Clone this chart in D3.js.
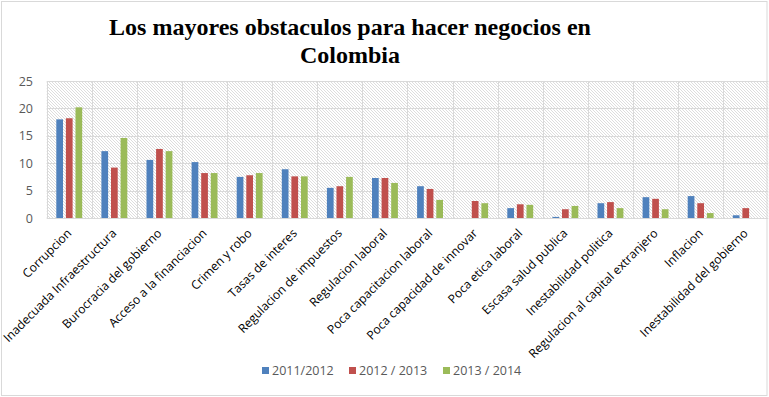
<!DOCTYPE html>
<html><head><meta charset="utf-8">
<script src="https://cdn.jsdelivr.net/npm/d3@7"></script>
<style>body{margin:0;background:#fff}svg{display:block}</style>
</head><body>
<svg id="chart" width="769" height="397"></svg>
<script>
const categories = ["Corrupcion","Inadecuada Infraestructura","Burocracia del gobierno","Acceso a la financiacion","Crimen y robo","Tasas de interes","Regulacion de impuestos","Regulacion laboral","Poca capacitacion laboral","Poca capacidad de innovar","Poca etica laboral","Escasa salud publica","Inestabilidad  politica","Regulacion al capital extranjero","Inflacion","Inestabilidad  del gobierno"];
const seriesNames = ["2011/2012","2012 / 2013","2013 / 2014"];
const values2011 = [18.0,12.2,10.6,10.2,7.5,8.9,5.5,7.3,5.8,null,1.8,0.2,2.7,3.8,4.0,0.5];
const values2012 = [18.2,9.2,12.6,8.2,7.8,7.6,5.8,7.3,5.3,3.1,2.5,1.6,2.9,3.5,2.7,1.8];
const values2013 = [20.2,14.6,12.2,8.2,8.2,7.6,7.5,6.4,3.3,2.7,2.4,2.2,1.8,1.6,0.9,null];
const yTicks = [0,5,10,15,20,25];
const colors = ["#4F81BD","#C0504D","#9BBB59"];
const titleLines = ["Los mayores obstaculos para hacer negocios en","Colombia"];

const allSeries = [values2011, values2012, values2013];
const svg = d3.select("#chart");
const W = 769, H = 397;
const plot = {left: 46.7, right: 768.3, top: 81, bottom: 218};

svg.append("rect").attr("width", W).attr("height", H).attr("fill", "#fff");

const defs = svg.append("defs");
const pat = defs.append("pattern").attr("id", "hatch").attr("patternUnits", "userSpaceOnUse")
  .attr("width", 3).attr("height", 3);
pat.append("rect").attr("width", 3).attr("height", 3).attr("fill", "#fff");
pat.append("path").attr("d", "M0,0L3,3M-1,2L1,4M2,-1L4,1").attr("stroke", "#d2d2d2").attr("stroke-width", 0.75);

const x0 = d3.scaleBand().domain(categories).range([plot.left, plot.right]).padding(0);
const groupW = 25.9;
const x1 = d3.scaleBand().domain(d3.range(3)).range([0, groupW]).paddingInner(0.3).paddingOuter(0);
const y = d3.scaleLinear().domain([0, 25]).range([plot.bottom, plot.top]);

svg.append("rect").attr("x", plot.left).attr("y", plot.top)
  .attr("width", plot.right - plot.left).attr("height", plot.bottom - plot.top)
  .attr("fill", "url(#hatch)");

svg.append("g").selectAll("line").data(yTicks).join("line")
  .attr("x1", plot.left).attr("x2", plot.right)
  .attr("y1", d => Math.round(y(d)) + 0.5).attr("y2", d => Math.round(y(d)) + 0.5)
  .attr("stroke", "#d9d9d9").attr("stroke-width", 1);
svg.append("g").selectAll("line").data(categories).join("line")
  .attr("x1", d => Math.round(x0(d)) + 0.5).attr("x2", d => Math.round(x0(d)) + 0.5)
  .attr("y1", plot.top).attr("y2", plot.bottom)
  .attr("stroke", "#d9d9d9").attr("stroke-width", 1);

const groups = svg.append("g").selectAll("g").data(categories).join("g")
  .attr("transform", d => `translate(${x0(d) + (x0.bandwidth() - groupW) / 2},0)`);
groups.selectAll("rect").data((c, i) => allSeries.map((s, k) => ({k, v: s[i]})).filter(d => d.v != null))
  .join("rect")
  .attr("x", d => x1(d.k)).attr("width", x1.bandwidth())
  .attr("y", d => y(d.v)).attr("height", d => y(0) - y(d.v))
  .attr("fill", d => colors[d.k]);

const yAxis = d3.axisLeft(y).tickValues(yTicks).tickSize(0).tickPadding(0);
const ya = svg.append("g").attr("transform", `translate(33,0)`).call(yAxis);
ya.select(".domain").remove();
ya.selectAll("text").attr("font-family", "'Open Sans', sans-serif").attr("font-size", "12.5px").attr("fill", "#595959");

const xa = svg.append("g");
xa.selectAll("text").data(categories).join("text")
  .attr("transform", d => `translate(${x0(d) + x0.bandwidth() / 2 + 3},${plot.bottom + 16}) rotate(-45)`)
  .attr("text-anchor", "end")
  .attr("font-family", "'Open Sans', sans-serif").attr("font-size", "12.1px").attr("fill", "#000")
  .text(d => d);

const t = svg.append("g");
titleLines.forEach((line, i) => {
  t.append("text").attr("x", 350).attr("y", 35 + i * 28).attr("text-anchor", "middle")
    .attr("font-family", "'Liberation Serif', 'DejaVu Serif', serif").attr("font-weight", "bold")
    .attr("font-size", "24px").attr("fill", "#000").text(line);
});

const legX = [262, 349, 443];
const lg = svg.append("g");
seriesNames.forEach((s, i) => {
  lg.append("rect").attr("x", legX[i]).attr("y", 367).attr("width", 7).attr("height", 7).attr("fill", colors[i]);
  lg.append("text").attr("x", legX[i] + 10).attr("y", 375).attr("font-family", "'Open Sans', sans-serif")
    .attr("font-size", "12.5px").attr("fill", "#595959").text(s);
});

svg.append("rect").attr("x", 1.5).attr("y", 1.5).attr("width", 765.5).attr("height", 394)
  .attr("fill", "none").attr("stroke", "#d9d9d9").attr("stroke-width", 1);
</script>
</body></html>
